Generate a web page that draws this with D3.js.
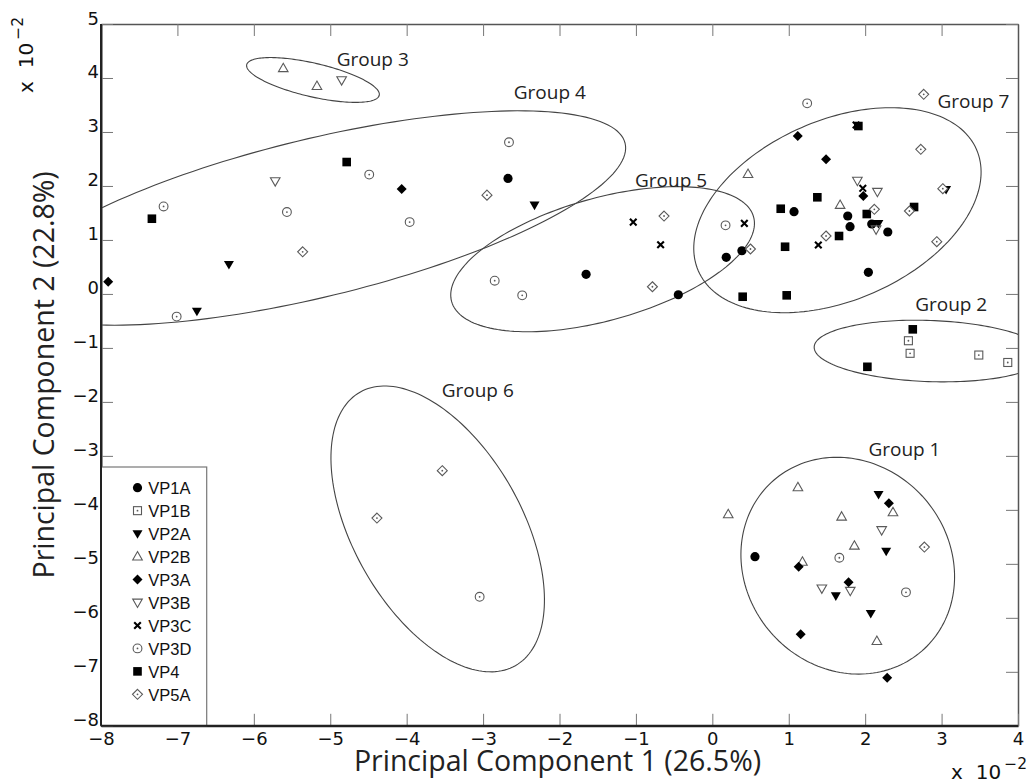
<!DOCTYPE html>
<html>
<head>
<meta charset="utf-8">
<style>
body { margin: 0; background: #fff; }
.tickText { font: 18px "DejaVu Sans", sans-serif; fill: #111; }
.noteText { font: 20px "DejaVu Sans", sans-serif; fill: #111; }
.axisTitle { font: 28.5px "Open Sans", sans-serif; fill: #222; }
.groupLabel { font: 19px "Open Sans", sans-serif; fill: #222; }
.legendText { font: 16.5px "Liberation Sans", Arial, sans-serif; fill: #111; }
.ellipse { fill: none; stroke: #444; stroke-width: 1.1px; }
</style>
</head>
<body>
<div id="THE_CONTAINER"></div>
<script src="https://cdn.jsdelivr.net/npm/d3@7"></script>
<script>

// ---- data (PC1, PC2 in units of 10^-2) ----
const seriesNames = ["VP1A", "VP1B", "VP2A", "VP2B", "VP3A", "VP3B", "VP3C", "VP3D", "VP4", "VP5A"];

const vp1a = [[-2.674, 2.14], [-1.652, 0.363], [-0.445, -0.015], [0.182, 0.678], [0.387, 0.80], [1.069, 1.523],
    [1.772, 1.443], [1.802, 1.245], [2.086, 1.295], [2.296, 1.147], [2.042, 0.40], [0.558, -4.867]];
const vp1b = [[2.566, -0.867], [2.588, -1.10], [3.487, -1.132], [3.866, -1.27]];
const vp2a = [[-6.745, -0.317], [-6.326, 0.548], [-2.327, 1.647], [2.173, 1.308], [3.059, 1.937],
    [2.175, -3.713], [2.275, -4.763], [1.616, -5.591], [2.073, -5.917]];
const vp2b = [[-5.615, 4.18], [-5.174, 3.85], [0.467, 2.22], [1.672, 1.647], [0.208, -4.083], [1.12, -3.583],
    [2.364, -4.046], [1.692, -4.127], [1.859, -4.665], [1.179, -4.962], [2.153, -6.43]];
const vp3a = [[-7.906, 0.226], [-4.065, 1.943], [1.118, 2.925], [1.488, 2.494], [1.976, 1.814],
    [2.31, -3.879], [1.13, -5.054], [1.783, -5.343], [1.156, -6.306], [2.288, -7.11]];
const vp3b = [[-4.851, 3.96], [-5.72, 2.09], [1.898, 2.097], [2.16, 1.893], [2.143, 1.197],
    [2.216, -4.374], [1.433, -5.454], [1.805, -5.498]];
const vp3c = [[-1.035, 1.33], [-0.677, 0.91], [0.419, 1.307], [1.387, 0.906], [1.969, 1.956], [1.881, 3.129]];
const vp3d = [[-7.181, 1.62], [-7.01, -0.42], [-5.567, 1.517], [-4.49, 2.21], [-3.961, 1.33], [-2.661, 2.81],
    [-2.848, 0.245], [-2.488, -0.026], [0.173, 1.27], [1.241, 3.53], [1.662, -4.887], [2.534, -5.528], [-3.045, -5.61]];
const vp4 = [[-7.334, 1.393], [-4.785, 2.443], [0.397, -0.052], [0.973, -0.026], [0.952, 0.874], [0.895, 1.578],
    [1.374, 1.79], [1.658, 1.073], [2.021, 1.48], [1.911, 3.11], [2.64, 1.61], [2.623, -0.656], [2.029, -1.35]];
const vp5a = [[-5.361, 0.78], [-2.949, 1.83], [-0.632, 1.443], [-0.784, 0.133], [0.499, 0.832], [1.488, 1.073],
    [2.12, 1.567], [2.728, 2.679], [2.766, 3.697], [2.579, 1.536], [3.016, 1.949], [2.937, 0.967],
    [2.775, -4.689], [-3.534, -3.275], [-4.389, -4.152]];
const seriesValues = [vp1a, vp1b, vp2a, vp2b, vp3a, vp3b, vp3c, vp3d, vp4, vp5a];

// cluster ellipses: centre (data), semi axes (PC1 units), tilt on screen (deg)
const groupNames = ["Group 1", "Group 2", "Group 3", "Group 4", "Group 5", "Group 6", "Group 7"];
const groupCentre = [[1.772, -5.034], [2.842, -1.058], [-5.226, 3.963], [-5.187, 1.406], [-1.436, 0.643], [-3.594, -4.353], [1.637, 1.551]];
const groupAxes = [[1.479, 1.334], [1.51, 0.40], [0.89, 0.22], [4.162, 1.034], [2.052, 0.80], [2.058, 1.102], [1.986, 1.179]];
const groupTilt = [49.1, 2, 13, -13.6, -15.7, 60.4, -23.6];
const groupLabelAt = [[2.042, -3.003], [2.654, -0.317], [-4.916, 4.222], [-2.599, 3.611], [-1.012, 1.98], [-3.542, -1.91], [2.945, 3.444]];

const xTicks = d3.range(-8, 5);
const yTicks = d3.range(-8, 6);

// ---- layout ----
const W = 1033, H = 784;
const plotLeft = 101, plotRight = 1018, plotTop = 24, plotBottom = 725.8;

const svg = d3.select("#THE_CONTAINER").append("svg")
    .attr("width", W).attr("height", H)
    .style("background", "#fff");

const x = d3.scaleLinear().domain([-8, 4]).range([plotLeft, plotRight]);
const y = d3.scaleLinear().domain([-8, 5]).range([plotBottom, plotTop]);

svg.append("clipPath").attr("id", "plotClip")
    .append("rect").attr("x", plotLeft).attr("y", plotTop)
    .attr("width", plotRight - plotLeft).attr("height", plotBottom - plotTop);

// ---- axes ----
function styleAxis(g, width, color) {
    g.attr("font-size", null).attr("font-family", null);
    g.select(".domain").attr("stroke", color).attr("stroke-width", width);
    g.selectAll(".tick line").attr("stroke", "#777").attr("stroke-width", 1);
}

const gTop = svg.append("g").attr("transform", `translate(0,${plotTop})`)
    .call(d3.axisTop(x).tickValues(xTicks).tickSize(-12).tickSizeOuter(0).tickFormat(""));
styleAxis(gTop, 1.3, "#555");
const gRight = svg.append("g").attr("transform", `translate(${plotRight},0)`)
    .call(d3.axisRight(y).tickValues(yTicks).tickSize(-12).tickSizeOuter(0).tickFormat(""));
styleAxis(gRight, 1.5, "#555");

const gBottom = svg.append("g").attr("transform", `translate(0,${plotBottom})`)
    .call(d3.axisBottom(x).tickValues(xTicks).tickSize(-12).tickSizeOuter(0).tickPadding(0));
styleAxis(gBottom, 2, "#222");
gBottom.selectAll("text").attr("class", "tickText").attr("y", 19).attr("dy", 0);

const gLeft = svg.append("g").attr("transform", `translate(${plotLeft},0)`)
    .call(d3.axisLeft(y).tickValues(yTicks).tickSize(-12).tickSizeOuter(0).tickPadding(2));
styleAxis(gLeft, 2, "#222");
gLeft.selectAll("text").attr("class", "tickText").attr("dy", 0);

// ---- ellipses ----
const k = x(1) - x(0);
const ellipseLine = d3.line().curve(d3.curveLinearClosed);
const ellipseG = svg.append("g").attr("clip-path", "url(#plotClip)");
groupNames.forEach((name, i) => {
    const cx = x(groupCentre[i][0]), cy = y(groupCentre[i][1]);
    const a = groupAxes[i][0] * k, b = groupAxes[i][1] * k;
    const phi = groupTilt[i] * Math.PI / 180;
    const pts = d3.range(0, 2 * Math.PI, Math.PI / 90).map(t => [
        cx + a * Math.cos(t) * Math.cos(phi) - b * Math.sin(t) * Math.sin(phi),
        cy + a * Math.cos(t) * Math.sin(phi) + b * Math.sin(t) * Math.cos(phi)
    ]);
    ellipseG.append("path").attr("class", "ellipse").attr("d", ellipseLine(pts));
    svg.append("text").attr("class", "groupLabel")
        .attr("x", x(groupLabelAt[i][0])).attr("y", y(groupLabelAt[i][1]))
        .text(name);
});

// ---- markers ----
const grayStroke = "#5a5a5a";
function drawMarker(g, name) {
    const dot = () => g.append("circle").attr("r", 0.9).attr("fill", grayStroke);
    switch (name) {
        case "VP1A": g.append("circle").attr("r", 4.6).attr("fill", "#000"); break;
        case "VP1B":
            g.append("rect").attr("x", -4).attr("y", -4).attr("width", 8).attr("height", 8)
                .attr("fill", "#fff").attr("stroke", grayStroke).attr("stroke-width", 1.1);
            dot(); break;
        case "VP2A": g.append("path").attr("d", "M-5,-3.4L5,-3.4L0,5.2Z").attr("fill", "#000"); break;
        case "VP2B": g.append("path").attr("d", "M0,-5L4.8,3.4L-4.8,3.4Z")
            .attr("fill", "none").attr("stroke", grayStroke).attr("stroke-width", 1.1); break;
        case "VP3A": g.append("path").attr("d", "M0,-5L5,0L0,5L-5,0Z").attr("fill", "#000"); break;
        case "VP3B": g.append("path").attr("d", "M-4.8,-3.4L4.8,-3.4L0,5Z")
            .attr("fill", "none").attr("stroke", grayStroke).attr("stroke-width", 1.1); break;
        case "VP3C": g.append("path").attr("d", "M-3.3,-3.3L3.3,3.3M-3.3,3.3L3.3,-3.3")
            .attr("stroke", "#000").attr("stroke-width", 2.1); break;
        case "VP3D":
            g.append("circle").attr("r", 4.4).attr("fill", "#fff").attr("stroke", grayStroke).attr("stroke-width", 1.1);
            dot(); break;
        case "VP4": g.append("rect").attr("x", -4.3).attr("y", -4.3).attr("width", 8.6).attr("height", 8.6).attr("fill", "#000"); break;
        case "VP5A":
            g.append("path").attr("d", "M0,-5L5,0L0,5L-5,0Z")
                .attr("fill", "#fff").attr("stroke", grayStroke).attr("stroke-width", 1.1);
            dot(); break;
    }
}

const pointsG = svg.append("g");
seriesNames.forEach((name, si) => {
    pointsG.selectAll(null)
        .data(seriesValues[si])
        .enter()
        .append("g")
        .attr("transform", d => `translate(${x(d[0])},${y(d[1])})`)
        .each(function () { drawMarker(d3.select(this), name); });
});

// ---- legend ----
const legendG = svg.append("g");
legendG.append("rect")
    .attr("x", plotLeft).attr("y", 467).attr("width", 206.7 - plotLeft).attr("height", plotBottom - 467)
    .attr("fill", "#fff").attr("stroke", "#777").attr("stroke-width", 1.2);
seriesNames.forEach((name, i) => {
    const row = legendG.append("g").attr("transform", `translate(0,${487.7 + i * 22.96})`);
    drawMarker(row.append("g").attr("transform", "translate(137.5,0)"), name);
    row.append("text").attr("class", "legendText").attr("x", 148.3).attr("y", 6.5).text(name);
});
// left/bottom axis lines over the legend box
svg.append("line").attr("x1", plotLeft).attr("x2", plotLeft).attr("y1", plotTop).attr("y2", plotBottom)
    .attr("stroke", "#222").attr("stroke-width", 2);
svg.append("line").attr("x1", plotLeft).attr("x2", plotRight).attr("y1", plotBottom).attr("y2", plotBottom)
    .attr("stroke", "#222").attr("stroke-width", 2);

// ---- titles ----
svg.append("text").attr("class", "axisTitle")
    .attr("x", (plotLeft + plotRight) / 2 - 2).attr("y", 771).attr("text-anchor", "middle")
    .text("Principal Component 1 (26.5%)");
svg.append("text").attr("class", "axisTitle")
    .attr("transform", `translate(54,${(plotTop + plotBottom) / 2}) rotate(-90)`).attr("text-anchor", "middle")
    .text("Principal Component 2 (22.8%)");

function scaleNote(t) {
    t.append("tspan").text("x");
    t.append("tspan").attr("dx", 13).text("10");
    t.append("tspan").attr("dx", 3).attr("dy", -10).style("font-size", "15.5px").text("\u22122");
}
svg.append("text").attr("class", "noteText")
    .attr("transform", "translate(33,93) rotate(-90)")
    .call(scaleNote);
svg.append("text").attr("class", "noteText")
    .attr("x", 951).attr("y", 778.5)
    .call(scaleNote);

</script>
</body>
</html>
